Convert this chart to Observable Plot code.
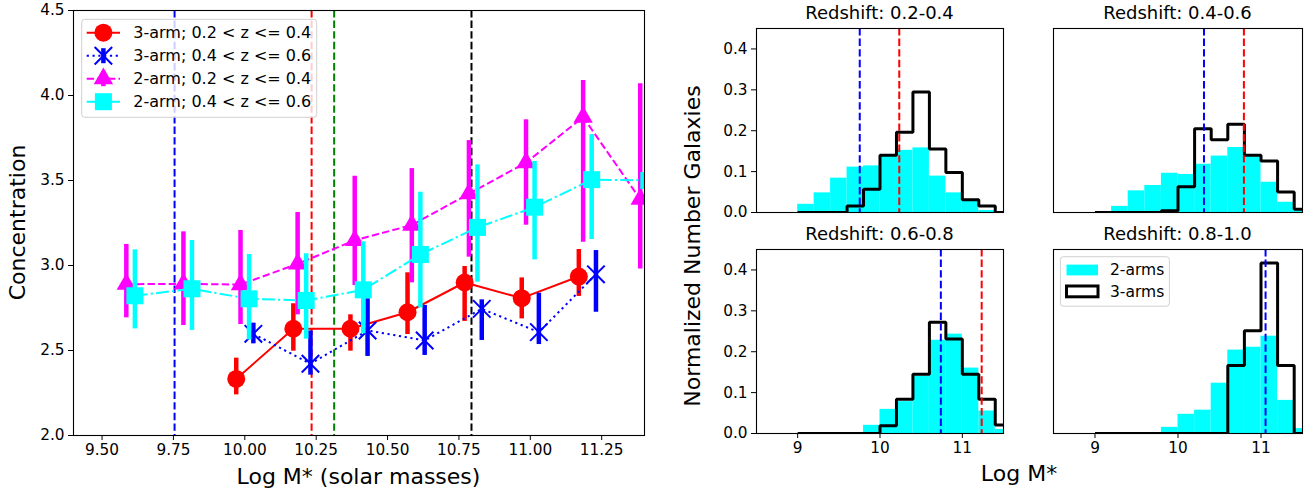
<!DOCTYPE html>
<html>
<head>
<meta charset="utf-8">
<script src="https://cdn.jsdelivr.net/npm/d3@7"></script>
<script src="https://cdn.jsdelivr.net/npm/@observablehq/plot@0.6"></script>
<style>
  body { margin: 0; background: #fff; }
  #fig { position: relative; width: 1312px; height: 493px; overflow: hidden; background: #fff; font-family: "DejaVu Sans", sans-serif; }
  #fig svg { position: absolute; overflow: visible; }
</style>
</head>
<body>
<div id="fig"></div>
<script>
// ---------------- DATA ----------------
// Left panel: concentration vs stellar mass
const massRed3  = [9.97, 10.17, 10.37, 10.57, 10.77, 10.97, 11.17];
const concRed3  = [2.333, 2.628, 2.628, 2.725, 2.900, 2.808, 2.935];
const loRed3    = [2.239, 2.496, 2.496, 2.594, 2.671, 2.686, 2.818];
const hiRed3    = [2.455, 2.775, 2.710, 2.957, 2.994, 2.927, 3.094];

const massBlue3 = [10.03, 10.23, 10.43, 10.63, 10.83, 11.03, 11.23];
const concBlue3 = [2.598, 2.422, 2.618, 2.559, 2.745, 2.608, 2.948];
const loBlue3   = [2.539, 2.355, 2.465, 2.471, 2.559, 2.535, 2.725];
const hiBlue3   = [2.661, 2.615, 2.804, 2.765, 2.798, 2.837, 3.088];

const massMag2  = [9.585, 9.785, 9.985, 10.185, 10.385, 10.585, 10.785, 10.985, 11.185, 11.385];
const concMag2  = [2.890, 2.892, 2.888, 3.010, 3.148, 3.238, 3.422, 3.605, 3.873, 3.390];
const loMag2    = [2.692, 2.647, 2.653, 2.710, 2.882, 2.898, 3.049, 3.237, 3.137, 2.980];
const hiMag2    = [3.124, 3.198, 3.206, 3.312, 3.525, 3.570, 3.735, 3.857, 4.088, 4.069];

const massCyan2 = [9.615, 9.815, 10.015, 10.215, 10.415, 10.615, 10.815, 11.015, 11.215, 11.415];
const concCyan2 = [2.822, 2.863, 2.804, 2.794, 2.857, 3.065, 3.224, 3.343, 3.505, 3.500];
const loCyan2   = [2.627, 2.618, 2.562, 2.567, 2.598, 2.750, 2.902, 3.033, 3.153, 3.200];
const hiCyan2   = [3.092, 3.147, 3.065, 3.069, 3.139, 3.431, 3.592, 3.612, 3.770, 3.800];

const seriesLabels = ["3-arm; 0.2 < z <= 0.4", "3-arm; 0.4 < z <= 0.6", "2-arm; 0.2 < z <= 0.4", "2-arm; 0.4 < z <= 0.6"];
const refMassLines = [9.754, 10.234, 10.313, 10.794];
const xTicksLeft = [9.5, 9.75, 10.0, 10.25, 10.5, 10.75, 11.0, 11.25];
const yTicksLeft = [2.0, 2.5, 3.0, 3.5, 4.0, 4.5];

// Right panels: normalized histograms of log M*
const binLeft  = [9.0, 9.2, 9.4, 9.6, 9.8, 10.0, 10.2, 10.4, 10.6, 10.8, 11.0, 11.2, 11.4];
const binRight = [9.2, 9.4, 9.6, 9.8, 10.0, 10.2, 10.4, 10.6, 10.8, 11.0, 11.2, 11.4, 11.6];
const panelTitles = ["Redshift: 0.2-0.4", "Redshift: 0.4-0.6", "Redshift: 0.6-0.8", "Redshift: 0.8-1.0"];
const twoArm_z02   = [0.020, 0.048, 0.084, 0.111, 0.114, 0.137, 0.152, 0.158, 0.089, 0.048, 0.027, 0.005, 0.000];
const threeArm_z02 = [0.000, 0.000, 0.000, 0.016, 0.057, 0.140, 0.196, 0.295, 0.155, 0.098, 0.031, 0.016, 0.000];
const twoArm_z04   = [0.000, 0.015, 0.053, 0.066, 0.096, 0.093, 0.118, 0.138, 0.159, 0.136, 0.074, 0.025, 0.007];
const threeArm_z04 = [0.000, 0.000, 0.000, 0.000, 0.004, 0.063, 0.205, 0.178, 0.216, 0.140, 0.126, 0.050, 0.008];
const twoArm_z06   = [0.000, 0.000, 0.000, 0.000, 0.020, 0.059, 0.078, 0.140, 0.228, 0.243, 0.160, 0.055, 0.010];
const threeArm_z06 = [0.000, 0.000, 0.000, 0.000, 0.000, 0.019, 0.084, 0.145, 0.272, 0.231, 0.145, 0.084, 0.021];
const twoArm_z08   = [0.000, 0.000, 0.000, 0.000, 0.015, 0.047, 0.057, 0.123, 0.204, 0.211, 0.238, 0.081, 0.012];
const threeArm_z08 = [0.000, 0.000, 0.000, 0.000, 0.000, 0.000, 0.000, 0.000, 0.166, 0.251, 0.417, 0.166, 0.000];
const medianBlue = [9.754, 10.313, 10.739, 11.055];
const medianRed  = [10.234, 10.794, 11.235];
const histLegendLabels = ["2-arms", "3-arms"];
const histXTicks = [9, 10, 11];
const histYTicks = [0.0, 0.1, 0.2, 0.3, 0.4];

// ---------------- STYLE ----------------
const FONT = "DejaVu Sans";
const TICK_FS = 15.3;
const seriesStyle = [
  {color: "#ff0000", dash: undefined,          symbol: "circle",   r: 9},
  {color: "#0000ff", dash: "2.2,3.6",          symbol: "times",    r: 8},
  {color: "#ff00ff", dash: "7.4,3.2",          symbol: "triangle", r: 7.2},
  {color: "#00ffff", dash: "12.8,3.2,2.2,3.2", symbol: "square",   r: 9.6}
];
const refColors = ["#0000ff", "#ff0000", "#008000", "#000000"];
const fig = document.getElementById("fig");

function place(svg, left, top) {
  svg.style.left = left + "px";
  svg.style.top = top + "px";
  svg.style.background = "transparent";
  fig.appendChild(svg);
}

// ---------------- LEFT PANEL ----------------
const series = [
  {x: massRed3,  y: concRed3,  lo: loRed3,  hi: hiRed3},
  {x: massBlue3, y: concBlue3, lo: loBlue3, hi: hiBlue3},
  {x: massMag2,  y: concMag2,  lo: loMag2,  hi: hiMag2},
  {x: massCyan2, y: concCyan2, lo: loCyan2, hi: hiCyan2}
];
const leftMarks = [];
refMassLines.forEach((v, i) => leftMarks.push(
  Plot.ruleX([v], {stroke: refColors[i], strokeWidth: 2, strokeDasharray: "7.4,3.2"})
));
series.forEach((s, k) => {
  const st = seriesStyle[k];
  const rows = s.x.map((x, i) => ({x, y: s.y[i], lo: s.lo[i], hi: s.hi[i]}));
  leftMarks.push(Plot.line(rows, {x: "x", y: "y", stroke: st.color, strokeWidth: 2, strokeDasharray: st.dash, strokeLinecap: "butt", clip: true}));
  leftMarks.push(Plot.ruleX(rows, {x: "x", y1: "lo", y2: "hi", stroke: st.color, strokeWidth: 4.5, clip: true}));
  const isStroke = st.symbol === "times";
  leftMarks.push(Plot.dot(rows, {x: "x", y: "y", symbol: st.symbol, r: st.r,
    fill: isStroke ? "none" : st.color, stroke: isStroke ? st.color : "none", strokeWidth: 2, clip: true}));
});
leftMarks.push(Plot.frame({stroke: "black", strokeWidth: 1.1}));
leftMarks.push(Plot.axisX({ticks: xTicksLeft, tickFormat: d3.format(".2f"), tickSize: 5, tickPadding: 4, label: null, fontSize: TICK_FS}));
leftMarks.push(Plot.axisY({ticks: yTicksLeft, tickFormat: d3.format(".1f"), tickSize: 5, tickPadding: 4, label: null, fontSize: TICK_FS}));

const leftPlot = Plot.plot({
  width: 670, height: 493,
  marginLeft: 73, marginRight: 26, marginTop: 10, marginBottom: 58,
  x: {domain: [9.4, 11.4], axis: null},
  y: {domain: [2.0, 4.5], axis: null},
  style: {fontFamily: FONT, fontSize: TICK_FS + "px", color: "black", background: "transparent"},
  marks: leftMarks
});
place(leftPlot, 0, 0);

// ---------------- HISTOGRAM PANELS ----------------
const twoArm = [twoArm_z02, twoArm_z04, twoArm_z06, twoArm_z08];
const threeArm = [threeArm_z02, threeArm_z04, threeArm_z06, threeArm_z08];
const boxes = [
  {left: 700,  top: 0,   width: 310, height: 225, ml: 56, mr: 7,  mt: 28, mb: 13, xAxis: false, yAxis: true},
  {left: 1010, top: 0,   width: 302, height: 225, ml: 43, mr: 10, mt: 28, mb: 13, xAxis: false, yAxis: false},
  {left: 700,  top: 220, width: 310, height: 273, ml: 56, mr: 7,  mt: 29, mb: 60, xAxis: true,  yAxis: true},
  {left: 1010, top: 220, width: 302, height: 273, ml: 43, mr: 10, mt: 29, mb: 60, xAxis: true,  yAxis: false}
];
boxes.forEach((b, k) => {
  const two = twoArm[k], three = threeArm[k];
  const bars = binLeft.map((x1, i) => ({x1, x2: binRight[i], y: two[i]}));
  const step = [{x: binLeft[0], y: 0}]
    .concat(binLeft.map((x, i) => ({x, y: three[i]})))
    .concat([{x: binRight[binRight.length - 1], y: 0}]);
  const marks = [
    Plot.rect(bars, {x1: "x1", x2: "x2", y1: 0, y2: "y", fill: "#00ffff", clip: true}),
    Plot.line(step, {x: "x", y: "y", curve: "step-after", stroke: "black", strokeWidth: 3, strokeLinejoin: "miter", strokeLinecap: "butt", clip: true})
  ];
  if (medianBlue[k] != null) marks.push(Plot.ruleX([medianBlue[k]], {stroke: "#0000ff", strokeWidth: 2, strokeDasharray: "7.4,3.2"}));
  if (medianRed[k] != null) marks.push(Plot.ruleX([medianRed[k]], {stroke: "#ff0000", strokeWidth: 2, strokeDasharray: "7.4,3.2"}));
  marks.push(Plot.frame({stroke: "black", strokeWidth: 1.1}));
  if (b.xAxis) marks.push(Plot.axisX({ticks: histXTicks, tickFormat: d3.format("d"), tickSize: 5, tickPadding: 4, label: null, fontSize: TICK_FS}));
  if (b.yAxis) marks.push(Plot.axisY({ticks: histYTicks, tickFormat: d3.format(".1f"), tickSize: 5, tickPadding: 4, label: null, fontSize: TICK_FS}));
  const p = Plot.plot({
    width: b.width, height: b.height,
    marginLeft: b.ml, marginRight: b.mr, marginTop: b.mt, marginBottom: b.mb,
    x: {domain: [8.5, 11.5], axis: null},
    y: {domain: [0, 0.45], axis: null},
    style: {fontFamily: FONT, fontSize: TICK_FS + "px", color: "black", background: "transparent"},
    marks
  });
  place(p, b.left, b.top);
});

// ---------------- OVERLAY: labels, titles, legends ----------------
const ov = d3.select(fig).append("svg")
  .attr("width", 1312).attr("height", 493)
  .style("left", "0px").style("top", "0px")
  .attr("font-family", FONT).attr("fill", "black");

// axis labels
ov.append("text").attr("x", 358.5).attr("y", 484).attr("text-anchor", "middle").attr("font-size", 22).text("Log M* (solar masses)");
ov.append("text").attr("transform", "translate(25,222.5) rotate(-90)").attr("text-anchor", "middle").attr("font-size", 22).text("Concentration");
ov.append("text").attr("transform", "translate(700,246) rotate(-90)").attr("text-anchor", "middle").attr("font-size", 22).text("Normalized Number Galaxies");
ov.append("text").attr("x", 1019).attr("y", 481).attr("text-anchor", "middle").attr("font-size", 22).text("Log M*");

// histogram titles
boxes.forEach((b, k) => {
  const cx = b.left + b.ml + (b.width - b.ml - b.mr) / 2;
  const ty = b.top + b.mt - 9;
  ov.append("text").attr("x", cx).attr("y", ty).attr("text-anchor", "middle").attr("font-size", 18).text(panelTitles[k]);
});

// left legend
const lg = ov.append("g").attr("transform", "translate(81.7,19.3)");
lg.append("rect").attr("width", 235).attr("height", 98).attr("rx", 3)
  .attr("fill", "white").attr("fill-opacity", 0.8).attr("stroke", "#d0d0d0").attr("stroke-width", 1);
seriesLabels.forEach((lab, i) => {
  const st = seriesStyle[i];
  const cy = 13.4 + i * 23;
  const g = lg.append("g");
  g.append("line").attr("x1", 5).attr("x2", 38.3).attr("y1", cy).attr("y2", cy)
    .attr("stroke", st.color).attr("stroke-width", 2).attr("stroke-dasharray", st.dash || null);
  g.append("line").attr("x1", 21.7).attr("x2", 21.7).attr("y1", cy - 7.5).attr("y2", cy + 7.5)
    .attr("stroke", st.color).attr("stroke-width", 4.5);
  const symType = {circle: d3.symbolCircle, times: d3.symbolTimes, triangle: d3.symbolTriangle, square: d3.symbolSquare}[st.symbol];
  const isStroke = st.symbol === "times";
  g.append("path").attr("transform", `translate(21.7,${cy})`)
    .attr("d", d3.symbol(symType, st.r * st.r * Math.PI)())
    .attr("fill", isStroke ? "none" : st.color).attr("stroke", isStroke ? st.color : "none").attr("stroke-width", 2);
  g.append("text").attr("x", 51.6).attr("y", cy).attr("dy", "0.35em").attr("font-size", 16).text(lab);
});

// histogram legend (bottom-right panel)
const hg = ov.append("g").attr("transform", "translate(1060.4,256.7)");
hg.append("rect").attr("width", 109).attr("height", 49.5).attr("rx", 3)
  .attr("fill", "white").attr("fill-opacity", 0.8).attr("stroke", "#d0d0d0").attr("stroke-width", 1);
hg.append("rect").attr("x", 6.1).attr("y", 7.9).attr("width", 31.5).attr("height", 10.8).attr("fill", "#00ffff");
hg.append("rect").attr("x", 6.1).attr("y", 29.3).attr("width", 31.5).attr("height", 10.8).attr("fill", "none").attr("stroke", "black").attr("stroke-width", 3);
hg.append("text").attr("x", 49.6).attr("y", 13.3).attr("dy", "0.35em").attr("font-size", 15.5).text(histLegendLabels[0]);
hg.append("text").attr("x", 49.6).attr("y", 34.7).attr("dy", "0.35em").attr("font-size", 15.5).text(histLegendLabels[1]);
</script>
</body>
</html>
